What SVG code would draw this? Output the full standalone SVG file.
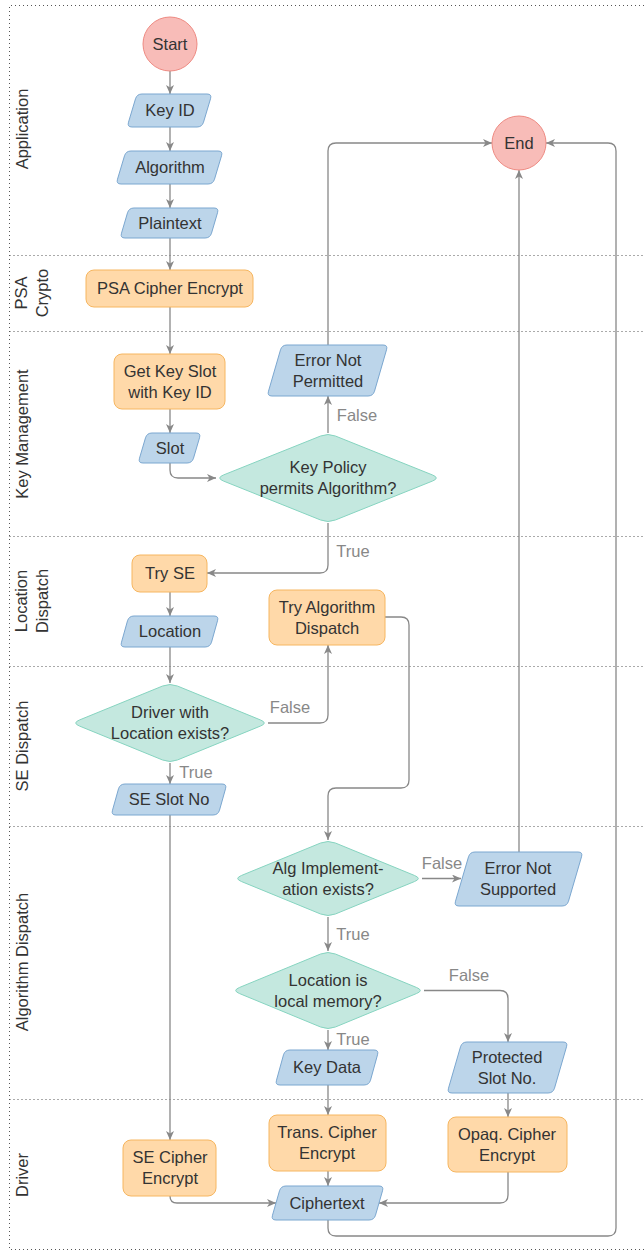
<svg xmlns="http://www.w3.org/2000/svg" width="644" height="1252" viewBox="0 0 644 1252">
<style>
.lane{fill:none;stroke:#555;stroke-width:1;stroke-dasharray:1 3}
.lt{font-family:"Liberation Sans",Arial,sans-serif;font-size:16.5px;fill:#333;text-anchor:middle}
.t{font-family:"Liberation Sans",Arial,sans-serif;font-size:16.5px;fill:#333;text-anchor:middle}
.lbl{font-family:"Liberation Sans",Arial,sans-serif;font-size:16.5px;fill:#888;text-anchor:middle}
.io{fill:#bcd5ea;stroke:#7ba7d0;stroke-width:1}
.proc{fill:#ffd9a9;stroke:#f6b660;stroke-width:1}
.dec{fill:#c4e8df;stroke:#86d4c0;stroke-width:1}
.term{fill:#f8bcb8;stroke:#ee8a82;stroke-width:1}
.c{fill:none;stroke:#888;stroke-width:1.3;marker-end:url(#ah)}
</style>
<defs>
<marker id="ah" markerUnits="userSpaceOnUse" markerWidth="10" markerHeight="10" refX="9" refY="4" orient="auto">
<path d="M0,0 L9,4 L0,8 L2.5,4 Z" fill="#888"/>
</marker>
</defs>
<rect width="644" height="1252" fill="#fff"/>
<g id="lanes">
<path class="lane" d="M660,5.5 H9.5 V1249.5 H660"/>
<path class="lane" d="M9.5,255.5 H644"/>
<path class="lane" d="M9.5,331.5 H644"/>
<path class="lane" d="M9.5,536.5 H644"/>
<path class="lane" d="M9.5,666.5 H644"/>
<path class="lane" d="M9.5,826.5 H644"/>
<path class="lane" d="M9.5,1099.5 H644"/>
<text class="lt" transform="translate(22,129) rotate(-90)" y="5.8">Application</text>
<text class="lt" transform="translate(32,293) rotate(-90)"><tspan x="0" y="-4.7">PSA</tspan><tspan x="0" y="16.3">Crypto</tspan></text>
<text class="lt" transform="translate(22,434) rotate(-90)" y="5.8">Key Management</text>
<text class="lt" transform="translate(32,601) rotate(-90)"><tspan x="0" y="-4.7">Location</tspan><tspan x="0" y="16.3">Dispatch</tspan></text>
<text class="lt" transform="translate(22,746) rotate(-90)" y="5.8">SE Dispatch</text>
<text class="lt" transform="translate(22,962) rotate(-90)" y="5.8">Algorithm Dispatch</text>
<text class="lt" transform="translate(22,1175) rotate(-90)" y="5.8">Driver</text>
</g>
<g id="connectors">
<path class="c" d="M170,71 V94"/>
<path class="c" d="M170,127 V151"/>
<path class="c" d="M170,184 V208"/>
<path class="c" d="M170,238 V270"/>
<path class="c" d="M170,307 V354"/>
<path class="c" d="M170,409 V433"/>
<path class="c" d="M170,463 V470 Q170,478 178,478 H216"/>
<path class="c" d="M328,433 V396"/>
<path class="c" d="M328,345 V151 Q328,143 336,143 H492"/>
<path class="c" d="M328,523 V565 Q328,573 320,573 H207"/>
<path class="c" d="M170,592 V616"/>
<path class="c" d="M170,647 V683"/>
<path class="c" d="M268,723 H320 Q328,723 328,715 V645"/>
<path class="c" d="M170,763 V784"/>
<path class="c" d="M385,617 H401 Q409,617 409,625 V780 Q409,788 401,788 H336 Q328,788 328,796 V840"/>
<path class="c" d="M170,815 V1140"/>
<path class="c" d="M422,878.5 H461"/>
<path class="c" d="M519,852 V170"/>
<path class="c" d="M328,917 V951"/>
<path class="c" d="M328,1030 V1050"/>
<path class="c" d="M424,990.5 H500 Q508,990.5 508,998.5 V1042"/>
<path class="c" d="M328,1085 V1115"/>
<path class="c" d="M508,1093 V1117"/>
<path class="c" d="M328,1171 V1186"/>
<path class="c" d="M170,1196 Q170,1203 177,1203 H276"/>
<path class="c" d="M508,1172 V1195 Q508,1203 500,1203 H379"/>
<path class="c" d="M328,1220 V1228 Q328,1236 336,1236 H608 Q616,1236 616,1228 V151 Q616,143 608,143 H546"/>
<text class="lbl" x="357" y="421">False</text>
<text class="lbl" x="353" y="557">True</text>
<text class="lbl" x="290" y="713">False</text>
<text class="lbl" x="196" y="778">True</text>
<text class="lbl" x="442" y="869">False</text>
<text class="lbl" x="353" y="940">True</text>
<text class="lbl" x="469" y="981">False</text>
<text class="lbl" x="353" y="1045">True</text>
</g>
<g id="start"><circle class="term" cx="170" cy="44" r="27"/><text class="t" x="170" y="49.8">Start</text></g>
<g id="end"><circle class="term" cx="519" cy="143" r="27"/><text class="t" x="519" y="148.8">End</text></g>
<g id="keyid"><path class="io" d="M142,94 H207 Q212,94 210.5,98.8 L203.5,122.2 Q202,127 197,127 H132 Q127,127 128.5,122.2 L135.5,98.8 Q137,94 142,94 Z"/><text class="t" x="170" y="116.3">Key ID</text></g>
<g id="algorithm"><path class="io" d="M131,151 H218 Q223,151 221.5,155.8 L214.5,179.2 Q213,184 208,184 H121 Q116,184 117.5,179.2 L124.5,155.8 Q126,151 131,151 Z"/><text class="t" x="170" y="173.3">Algorithm</text></g>
<g id="plaintext"><path class="io" d="M134,208 H214 Q219,208 217.5,212.8 L211.5,233.2 Q210,238 205,238 H125 Q120,238 121.5,233.2 L127.5,212.8 Q129,208 134,208 Z"/><text class="t" x="170" y="228.8">Plaintext</text></g>
<g id="psa"><rect class="proc" x="86" y="270" width="167" height="37" rx="8"/><text class="t" x="170" y="294.3">PSA Cipher Encrypt</text></g>
<g id="getslot"><rect class="proc" x="114" y="354" width="111" height="55" rx="8"/><text class="t"><tspan x="170" y="376.8">Get Key Slot</tspan><tspan x="170" y="397.8">with Key ID</tspan></text></g>
<g id="slot"><path class="io" d="M152,433 H196 Q201,433 199.5,437.8 L193.5,458.2 Q192,463 187,463 H143 Q138,463 139.5,458.2 L145.5,437.8 Q147,433 152,433 Z"/><text class="t" x="170" y="453.8">Slot</text></g>
<g id="errnp"><path class="io" d="M287,345 H383 Q388,345 386.5,349.8 L374.5,391.2 Q373,396 368,396 H272 Q267,396 268.5,391.2 L280.5,349.8 Q282,345 287,345 Z"/><text class="t"><tspan x="328" y="365.8">Error Not</tspan><tspan x="328" y="386.8">Permitted</tspan></text></g>
<g id="policy"><path class="dec" d="M320.6,436 Q328,433 335.4,436 L432.6,475 Q440,478 432.6,481 L335.4,520 Q328,523 320.6,520 L223.4,481 Q216,478 223.4,475 Z"/><text class="t"><tspan x="328" y="473.3">Key Policy</tspan><tspan x="328" y="494.3">permits Algorithm?</tspan></text></g>
<g id="tryse"><rect class="proc" x="132" y="555" width="75" height="37" rx="8"/><text class="t" x="170" y="579.3">Try SE</text></g>
<g id="location"><path class="io" d="M134,616 H214 Q219,616 217.5,620.8 L211.5,642.2 Q210,647 205,647 H125 Q120,647 121.5,642.2 L127.5,620.8 Q129,616 134,616 Z"/><text class="t" x="170" y="637.3">Location</text></g>
<g id="tryalg"><rect class="proc" x="269" y="590" width="116" height="55" rx="8"/><text class="t"><tspan x="327" y="612.8">Try Algorithm</tspan><tspan x="327" y="633.8">Dispatch</tspan></text></g>
<g id="driverexists"><path class="dec" d="M162.6,686 Q170,683 177.4,686 L260.6,720 Q268,723 260.6,726 L177.4,760 Q170,763 162.6,760 L79.4,726 Q72,723 79.4,720 Z"/><text class="t"><tspan x="170" y="718.3">Driver with</tspan><tspan x="170" y="739.3">Location exists?</tspan></text></g>
<g id="seslot"><path class="io" d="M125,784 H222 Q227,784 225.5,788.8 L219.5,810.2 Q218,815 213,815 H116 Q111,815 112.5,810.2 L118.5,788.8 Q120,784 125,784 Z"/><text class="t" x="169" y="805.3">SE Slot No</text></g>
<g id="algimpl"><path class="dec" d="M320.6,843 Q328,840 335.4,843 L414.6,875.5 Q422,878.5 414.6,881.5 L335.4,914 Q328,917 320.6,914 L241.4,881.5 Q234,878.5 241.4,875.5 Z"/><text class="t"><tspan x="328" y="873.8">Alg Implement-</tspan><tspan x="328" y="894.8">ation exists?</tspan></text></g>
<g id="errns"><path class="io" d="M475,852 H578 Q583,852 581.5,856.8 L568.5,901.2 Q567,906 562,906 H459 Q454,906 455.5,901.2 L468.5,856.8 Q470,852 475,852 Z"/><text class="t"><tspan x="518" y="874.3">Error Not</tspan><tspan x="518" y="895.3">Supported</tspan></text></g>
<g id="localmem"><path class="dec" d="M320.6,954 Q328,951 335.4,954 L416.6,987.5 Q424,990.5 416.6,993.5 L335.4,1027 Q328,1030 320.6,1027 L239.4,993.5 Q232,990.5 239.4,987.5 Z"/><text class="t"><tspan x="328" y="985.8">Location is</tspan><tspan x="328" y="1006.8">local memory?</tspan></text></g>
<g id="keydata"><path class="io" d="M290,1050 H374 Q379,1050 377.5,1054.8 L370.5,1080.2 Q369,1085 364,1085 H280 Q275,1085 276.5,1080.2 L283.5,1054.8 Q285,1050 290,1050 Z"/><text class="t" x="327" y="1073.3">Key Data</text></g>
<g id="protslot"><path class="io" d="M467,1042 H563 Q568,1042 566.5,1046.8 L554.5,1088.2 Q553,1093 548,1093 H452 Q447,1093 448.5,1088.2 L460.5,1046.8 Q462,1042 467,1042 Z"/><text class="t"><tspan x="507" y="1062.8">Protected</tspan><tspan x="507" y="1083.8">Slot No.</tspan></text></g>
<g id="secipher"><rect class="proc" x="123" y="1140" width="93" height="56" rx="8"/><text class="t"><tspan x="170" y="1163.3">SE Cipher</tspan><tspan x="170" y="1184.3">Encrypt</tspan></text></g>
<g id="transcipher"><rect class="proc" x="269" y="1115" width="117" height="56" rx="8"/><text class="t"><tspan x="327" y="1138.3">Trans. Cipher</tspan><tspan x="327" y="1159.3">Encrypt</tspan></text></g>
<g id="opaqcipher"><rect class="proc" x="448" y="1117" width="119" height="55" rx="8"/><text class="t"><tspan x="507" y="1139.8">Opaq. Cipher</tspan><tspan x="507" y="1160.8">Encrypt</tspan></text></g>
<g id="ciphertext"><path class="io" d="M286,1186 H379 Q384,1186 382.5,1190.8 L375.5,1215.2 Q374,1220 369,1220 H276 Q271,1220 272.5,1215.2 L279.5,1190.8 Q281,1186 286,1186 Z"/><text class="t" x="327" y="1208.8">Ciphertext</text></g>
</svg>
